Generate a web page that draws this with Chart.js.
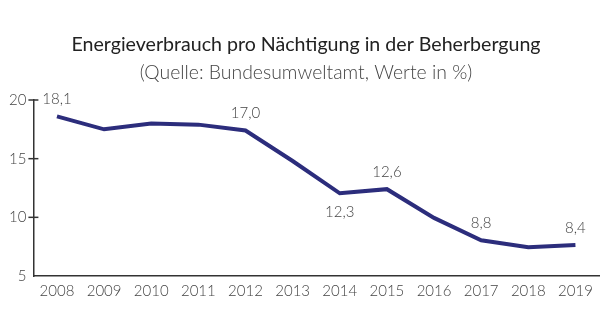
<!DOCTYPE html>
<html>
<head>
<meta charset="utf-8">
<script src="https://cdn.jsdelivr.net/npm/chart.js@4"></script>
<style>
  html, body { margin: 0; padding: 0; background: #fff; }
  #wrap { width: 613px; height: 330px; }
</style>
</head>
<body>
<div id="wrap"><canvas id="energyChart" width="613" height="330"></canvas></div>
<script>
// Data
const years = ['2008', '2009', '2010', '2011', '2012', '2013', '2014', '2015', '2016', '2017', '2018', '2019'];
const values = [18.6, 17.5, 18.0, 17.9, 17.4, 14.8, 12.05, 12.4, 9.95, 8.05, 7.45, 7.65];
const valueLabels = ['18,1', null, null, null, '17,0', null, '12,3', '12,6', null, '8,8', null, '8,4'];
const labelBelow = [false, false, false, false, false, false, true, false, false, false, false, false];
const yTicks = [5, 10, 15, 20];

const titleText = 'Energieverbrauch pro Nächtigung in der Beherbergung';
const subtitleText = '(Quelle: Bundesumweltamt, Werte in %)';

const fontName = 'Lato, "DejaVu Sans", sans-serif';
const lineColor = '#2c2d7c';
const axisColor = '#333';

// Title + subtitle, drawn centred over the page
const headings = {
    id: 'headings',
    afterDraw(chart) {
        const ctx = chart.ctx;
        ctx.save();
        ctx.textAlign = 'center';
        ctx.textBaseline = 'middle';
        ctx.fillStyle = '#222';
        ctx.font = '400 19.6px ' + fontName;
        ctx.fillText(titleText, 306, 45);
        ctx.fillStyle = '#444';
        ctx.font = '300 19.4px ' + fontName;
        ctx.fillText(subtitleText, 306, 73);
        ctx.restore();
    }
};

// Y-axis crossing tick marks
const crossTicks = {
    id: 'crossTicks',
    afterDraw(chart) {
        const ctx = chart.ctx;
        const y = chart.scales.y;
        const x0 = chart.chartArea.left;
        ctx.save();
        ctx.strokeStyle = axisColor;
        ctx.lineWidth = 1.5;
        yTicks.forEach(v => {
            if (v === y.min) return;
            const py = y.getPixelForValue(v);
            ctx.beginPath();
            ctx.moveTo(x0 - 5, py);
            ctx.lineTo(x0 + 5, py);
            ctx.stroke();
        });
        ctx.restore();
    }
};

// Value labels
const valueText = {
    id: 'valueText',
    afterDatasetsDraw(chart) {
        const ctx = chart.ctx;
        const meta = chart.getDatasetMeta(0);
        ctx.save();
        ctx.font = '300 15px ' + fontName;
        ctx.fillStyle = '#444';
        ctx.textAlign = 'center';
        ctx.textBaseline = 'middle';
        meta.data.forEach((pt, i) => {
            if (!valueLabels[i]) return;
            const dy = labelBelow[i] ? 19 : -17;
            ctx.fillText(valueLabels[i], pt.x, pt.y + dy);
        });
        ctx.restore();
    }
};

const ctx = document.getElementById('energyChart').getContext('2d');
new Chart(ctx, {
    type: 'line',
    data: {
        labels: years,
        datasets: [{
            data: values,
            borderColor: lineColor,
            borderWidth: 4,
            pointRadius: 0,
            tension: 0,
            fill: false
        }]
    },
    options: {
        responsive: false,
        animation: false,
        layout: { padding: { left: 2, right: 14, top: 100, bottom: 24 } },
        plugins: {
            legend: { display: false },
            tooltip: { enabled: false },
            title: { display: false }
        },
        scales: {
            x: {
                offset: true,
                grid: { display: false, drawTicks: false },
                border: { display: true, color: axisColor, width: 1.5 },
                ticks: {
                    color: '#444',
                    padding: 6,
                    maxRotation: 0,
                    font: { family: fontName, size: 15, weight: '300' }
                }
            },
            y: {
                min: 5,
                max: 20,
                grid: { display: false, drawTicks: false },
                border: { display: true, color: axisColor, width: 1.5 },
                afterBuildTicks(scale) {
                    scale.ticks = yTicks.map(v => ({ value: v }));
                },
                ticks: {
                    color: '#444',
                    padding: 7,
                    font: { family: fontName, size: 15, weight: '300' }
                }
            }
        }
    },
    plugins: [headings, crossTicks, valueText]
});
</script>
</body>
</html>
